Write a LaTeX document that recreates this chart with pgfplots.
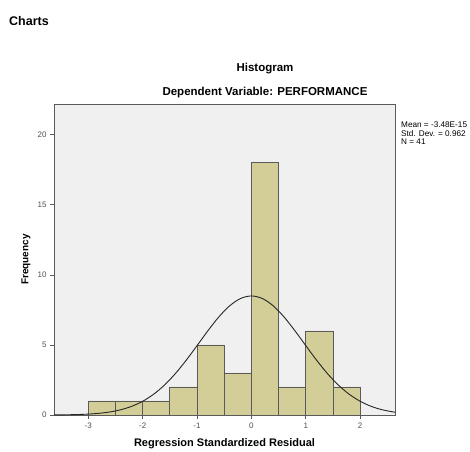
\documentclass[border=0pt]{standalone}
\usepackage{fontspec}
\setmainfont{Liberation Sans}
\usepackage{pgfplots}
\pgfplotsset{compat=1.18}
\definecolor{barfill}{RGB}{211,206,152}
\definecolor{plotbg}{RGB}{240,240,240}
\definecolor{framecol}{RGB}{90,90,90}
\definecolor{ticklab}{RGB}{80,80,80}
\begin{document}
\begin{tikzpicture}
\useasboundingbox (0pt,0pt) rectangle (470pt,451pt);
\node[anchor=west,inner sep=0pt,font=\bfseries\fontsize{12.5}{15}\selectfont] at (9pt,430pt) {Charts};
\node[inner sep=0pt,font=\bfseries\fontsize{11.5}{14}\selectfont] at (265pt,382pt) {Histogram};
\node[inner sep=0pt,font=\bfseries\fontsize{11.5}{14}\selectfont] at (265pt,358pt) {Dependent Variable: PERFORMANCE};
\node[anchor=north west,inner sep=0pt,align=left,font=\fontsize{8.2}{8.2}\selectfont] at (401pt,329pt) {Mean = -3.48E-15\\Std. Dev. = 0.962\\N = 41};
\begin{axis}[
  at={(54pt,36pt)}, anchor=south west, scale only axis,
  width=341pt, height=311pt,
  xmin=-3.63, xmax=2.64, ymin=0, ymax=22.2,
  axis background/.style={fill=plotbg},
  axis line style={framecol, line width=0.8pt},
  xtick={-3,-2,-1,0,1,2}, ytick={0,5,10,15,20},
  tick align=outside, major tick length=4pt,
  xtick pos=bottom, ytick pos=left,
  tick style={framecol, line width=0.8pt},
  /pgf/number format/assume math mode=true,
  ticklabel style={font=\fontsize{8}{9}\selectfont, text=ticklab},
  xlabel={Regression Standardized Residual},
  ylabel={Frequency},
  xlabel style={font=\bfseries\fontsize{11}{13}\selectfont, at={(axis description cs:0.5,-0.0932)}, anchor=center},
  ylabel style={font=\bfseries\fontsize{10}{12}\selectfont, at={(axis description cs:-0.082,0.5)}, anchor=center},
  clip=true,
]
\addplot[ybar interval, fill=barfill, draw=framecol, line width=0.7pt] coordinates {
(-3,1) (-2.5,1) (-2,1) (-1.5,2) (-1,5) (-0.5,3) (0,18) (0.5,2) (1,6) (1.5,2) (2,2)};
\addplot[smooth, black!85, line width=0.9pt] coordinates {
(-3.63,0.0065) (-3.4,0.0165) (-3.2,0.0336) (-3.0,0.0657) (-2.8,0.123) (-2.6,0.2204)
(-2.4,0.378) (-2.2,0.622) (-2.0,0.979) (-1.8,1.476) (-1.6,2.132) (-1.4,2.948)
(-1.2,3.904) (-1.0,4.952) (-0.8,6.015) (-0.6,6.998) (-0.4,7.796) (-0.2,8.318)
(0,8.50) (0.2,8.318) (0.4,7.796) (0.6,6.998) (0.8,6.015) (1.0,4.952)
(1.2,3.904) (1.4,2.948) (1.6,2.132) (1.8,1.476) (2.0,0.979) (2.2,0.622)
(2.4,0.378) (2.64,0.197)};
\end{axis}
\end{tikzpicture}
\end{document}
